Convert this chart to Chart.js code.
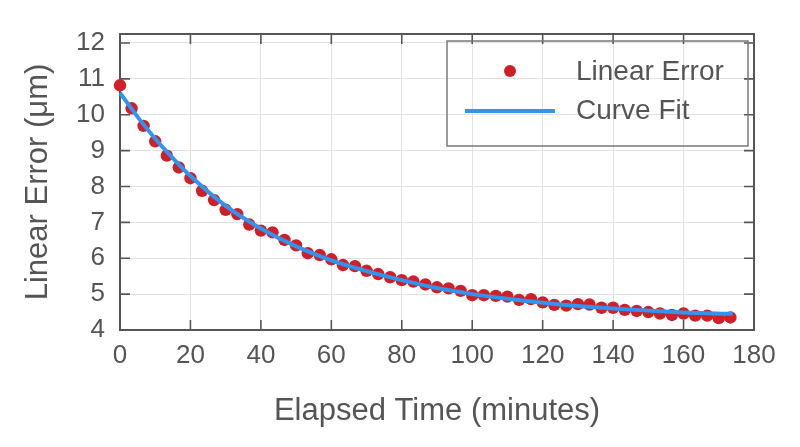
<!DOCTYPE html>
<html>
<head>
<meta charset="utf-8">
<script src="https://cdn.jsdelivr.net/npm/chart.js@4"></script>
<style>
  html, body { margin: 0; padding: 0; background: #fff; }
  #wrap { width: 800px; height: 447px; }
</style>
</head>
<body>
<div id="wrap"><canvas id="chart" width="800" height="447"></canvas></div>
<script>
// measured points (time in minutes, error in um)
var times = [0, 3.3, 6.7, 10, 13.3, 16.7, 20, 23.3, 26.7, 30, 33.3, 36.7, 40, 43.3, 46.7, 50,
  53.3, 56.7, 60, 63.3, 66.7, 70, 73.3, 76.7, 80, 83.3, 86.7, 90, 93.3, 96.7, 100, 103.3,
  106.7, 110, 113.3, 116.7, 120, 123.3, 126.7, 130, 133.3, 136.7, 140, 143.3, 146.7, 150,
  153.3, 156.7, 160, 163.3, 166.7, 170, 173.3];
var linearError = [10.82, 10.18, 9.69, 9.26, 8.86, 8.53, 8.23, 7.88, 7.62, 7.35, 7.23, 6.94,
  6.77, 6.72, 6.51, 6.36, 6.14, 6.09, 5.97, 5.81, 5.78, 5.65, 5.56, 5.47, 5.39, 5.35, 5.27,
  5.19, 5.16, 5.09, 4.97, 4.97, 4.95, 4.93, 4.84, 4.86, 4.77, 4.70, 4.68, 4.72, 4.71, 4.62,
  4.62, 4.56, 4.53, 4.50, 4.46, 4.42, 4.46, 4.40, 4.40, 4.33, 4.35];

// fitted curve
var fitTimes = [0, 5, 10, 15, 20, 30, 40, 50, 60, 70, 80, 90, 100, 110, 120, 130, 140, 150, 160, 174];
var fitValues = [10.61, 9.94, 9.33, 8.79, 8.29, 7.46, 6.83, 6.33, 5.94, 5.64, 5.39, 5.17, 5.00,
  4.87, 4.76, 4.67, 4.60, 4.54, 4.49, 4.45];

var xTicks = [0, 20, 40, 60, 80, 100, 120, 140, 160, 180];
var yTicks = [4, 5, 6, 7, 8, 9, 10, 11, 12];

var RED = '#d01f27', BLUE = '#2f95f0', AXIS = '#565656', TEXT = '#555555';
var FONT = "'Liberation Sans', Arial, sans-serif";

function pts(xs, ys) {
  var out = [];
  for (var i = 0; i < xs.length; i++) out.push({ x: xs[i], y: ys[i] });
  return out;
}

// box, inward ticks (matlab style) and legend
var boxPlugin = {
  id: 'box',
  beforeDatasetsDraw: function (chart) {
    var c = chart.ctx, a = chart.chartArea, sx = chart.scales.x, sy = chart.scales.y;
    c.save();
    c.strokeStyle = AXIS; c.lineWidth = 1.6;
    c.beginPath();
    xTicks.forEach(function (t) {
      var p = sx.getPixelForValue(t);
      c.moveTo(p, a.bottom); c.lineTo(p, a.bottom - 10);
      c.moveTo(p, a.top); c.lineTo(p, a.top + 10);
    });
    yTicks.forEach(function (t) {
      var p = sy.getPixelForValue(t);
      c.moveTo(a.left, p); c.lineTo(a.left + 10, p);
      c.moveTo(a.right, p); c.lineTo(a.right - 10, p);
    });
    c.stroke();
    c.lineWidth = 2;
    c.strokeRect(a.left, a.top, a.right - a.left, a.bottom - a.top);
    c.restore();
  },
  afterDatasetsDraw: function (chart) {
    var c = chart.ctx, a = chart.chartArea;
    var L = a.right - 307, T = a.top + 7;
    c.save();
    c.strokeStyle = '#7a7a7a'; c.lineWidth = 1.5;
    c.strokeRect(L, T, 301, 105);
    c.fillStyle = RED;
    c.beginPath(); c.arc(L + 63, T + 30, 6, 0, Math.PI * 2); c.fill();
    c.strokeStyle = BLUE; c.lineWidth = 4;
    c.beginPath(); c.moveTo(L + 18, T + 70); c.lineTo(L + 108, T + 70); c.stroke();
    c.fillStyle = TEXT; c.font = '28px ' + FONT; c.textBaseline = 'middle'; c.textAlign = 'left';
    c.fillText('Linear Error', L + 129, T + 31);
    c.fillText('Curve Fit', L + 129, T + 70);
    c.restore();
  }
};

new Chart(document.getElementById('chart'), {
  type: 'scatter',
  data: {
    datasets: [{
      label: 'Linear Error',
      data: pts(times, linearError),
      backgroundColor: RED,
      borderColor: RED,
      pointRadius: 6.2,
      pointBorderWidth: 0,
      order: 1,
      clip: false
    }, {
      label: 'Curve Fit',
      data: pts(fitTimes, fitValues),
      showLine: true,
      borderColor: BLUE,
      backgroundColor: BLUE,
      borderWidth: 4,
      pointRadius: 0,
      cubicInterpolationMode: 'monotone',
      order: 0,
      clip: false
    }]
  },
  options: {
    responsive: false,
    animation: false,
    layout: { padding: { top: 34, right: 46, left: 0, bottom: 0 } },
    plugins: { legend: { display: false }, tooltip: { enabled: false } },
    scales: {
      x: {
        type: 'linear', min: 0, max: 180,
        afterFit: function (s) { s.height = 117; },
        afterBuildTicks: function (s) { s.ticks = xTicks.map(function (v) { return { value: v }; }); },
        grid: { color: '#e2e2e2', lineWidth: 1, drawTicks: false },
        border: { display: false },
        ticks: { color: TEXT, font: { family: FONT, size: 26 }, padding: 10, maxRotation: 0 },
        title: { display: true, text: 'Elapsed Time (minutes)', color: TEXT,
          font: { family: FONT, size: 31 }, padding: { top: 0, bottom: 17 } }
      },
      y: {
        type: 'linear', min: 4, max: 12.25,
        afterFit: function (s) { s.width = 120; },
        afterBuildTicks: function (s) { s.ticks = yTicks.map(function (v) { return { value: v }; }); },
        grid: { color: '#e2e2e2', lineWidth: 1, drawTicks: false },
        border: { display: false },
        ticks: { color: TEXT, font: { family: FONT, size: 26 }, padding: 15 },
        title: { display: true, text: 'Linear Error (μm)', color: TEXT,
          font: { family: FONT, size: 31 }, padding: { top: 20, bottom: 0 } }
      }
    }
  },
  plugins: [boxPlugin]
});
</script>
</body>
</html>
